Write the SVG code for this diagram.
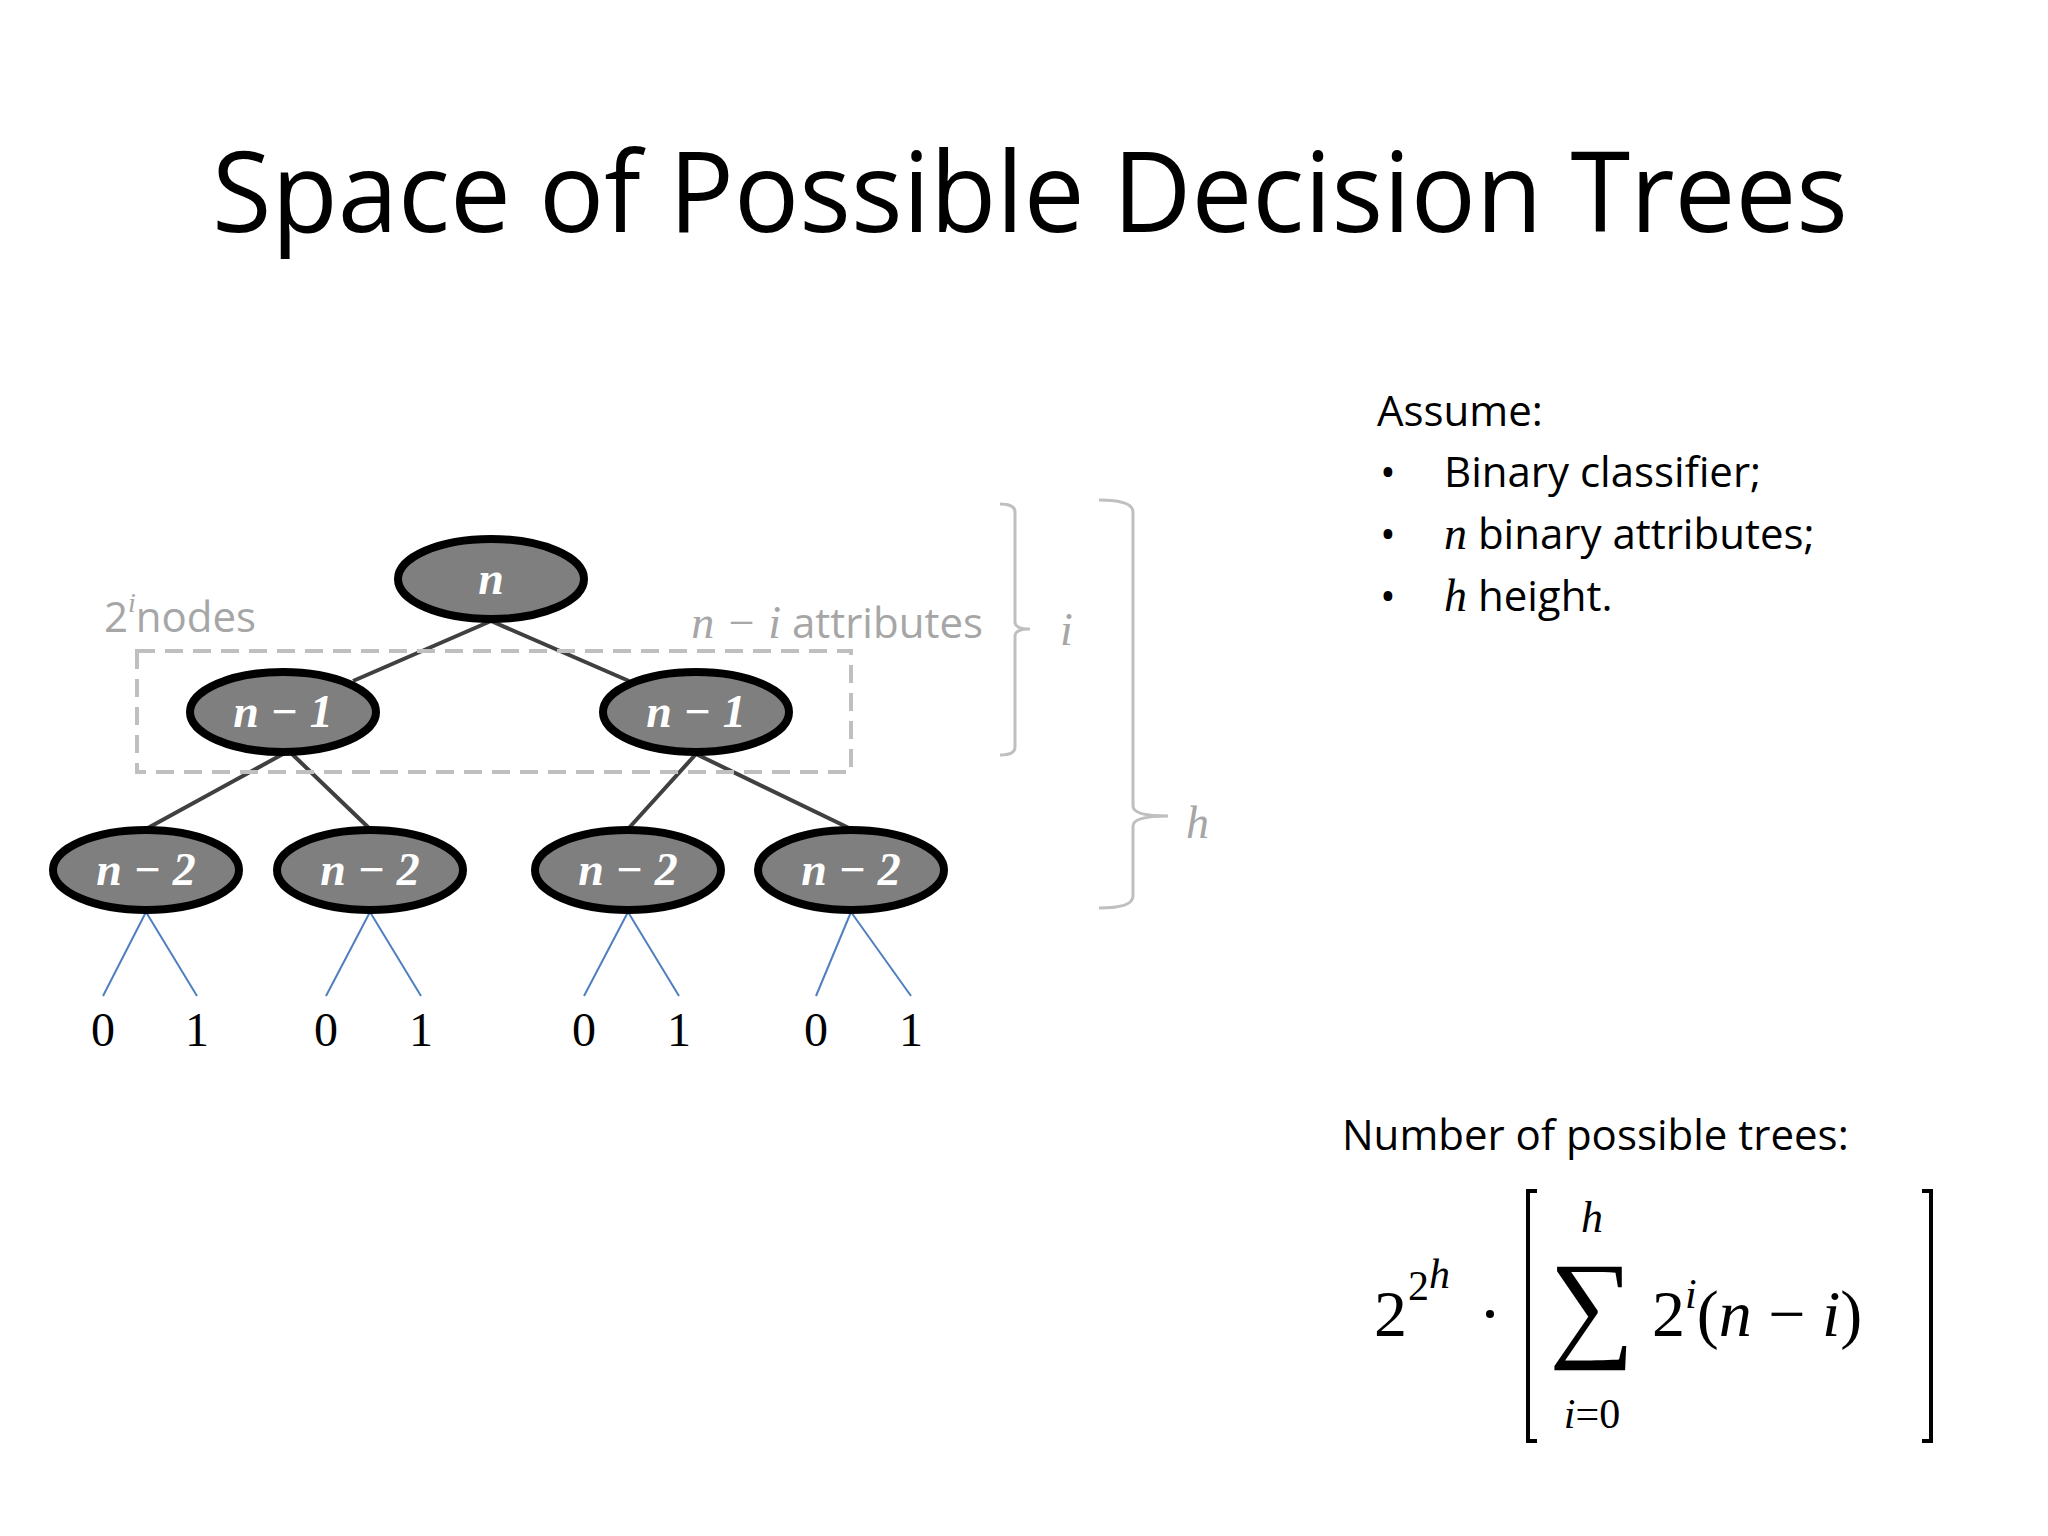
<svg xmlns="http://www.w3.org/2000/svg" width="2048" height="1536" viewBox="0 0 2048 1536">
<style>
.nd{fill:#7f7f7f;stroke:#000;stroke-width:8}
.nt{font-family:"Liberation Serif",serif;font-style:italic;font-weight:bold;fill:#fff;font-size:46px;text-anchor:middle}
.e{stroke:#404040;stroke-width:4;fill:none}
.b{stroke:#4f7fbf;stroke-width:2;fill:none}
.lf{font-family:"Liberation Serif",serif;font-size:48px;text-anchor:middle;fill:#000}
.g{font-family:"Open Sans",sans-serif;fill:#a6a6a6;font-size:42px}
.gi{font-family:"Liberation Serif",serif;font-style:italic;fill:#a6a6a6;font-size:46px}
.br{stroke:#bfbfbf;stroke-width:3;fill:none}
.t{font-family:"Open Sans",sans-serif;fill:#000;font-size:42px}
.m{font-family:"Liberation Serif",serif;fill:#000}
</style>
<rect width="2048" height="1536" fill="#fff"/>
<text x="1030" y="232" text-anchor="middle" font-family="Open Sans, sans-serif" font-size="112" textLength="1636" lengthAdjust="spacingAndGlyphs">Space of Possible Decision Trees</text>
<g id="connectors">
<path class="e" d="M491 621 L353 681 M491 621 L629 681 M283 754 L146 829 M292 754 L370 829 M696 754 L628 829 M696 754 L851 829"/>
<path class="b" d="M146 912 L103 996 M146 912 L197 996 M370 912 L326 996 M370 912 L421 996 M628 912 L584 996 M628 912 L679 996 M851 912 L816 996 M851 912 L911 996"/>
</g>
<rect x="137" y="651" width="714" height="121" fill="none" stroke="#bfbfbf" stroke-width="4" stroke-dasharray="18,10"/>
<g id="root"><ellipse class="nd" cx="491" cy="579" rx="93" ry="40"/><text class="nt" x="491" y="594">n</text></g>
<g id="n1a"><ellipse class="nd" cx="283" cy="712" rx="93" ry="40"/><text class="nt" x="283" y="727">n − 1</text></g>
<g id="n1b"><ellipse class="nd" cx="696" cy="712" rx="93" ry="40"/><text class="nt" x="696" y="727">n − 1</text></g>
<g id="n2a"><ellipse class="nd" cx="146" cy="870" rx="93" ry="40"/><text class="nt" x="146" y="885">n − 2</text></g>
<g id="n2b"><ellipse class="nd" cx="370" cy="870" rx="93" ry="40"/><text class="nt" x="370" y="885">n − 2</text></g>
<g id="n2c"><ellipse class="nd" cx="628" cy="870" rx="93" ry="40"/><text class="nt" x="628" y="885">n − 2</text></g>
<g id="n2d"><ellipse class="nd" cx="851" cy="870" rx="93" ry="40"/><text class="nt" x="851" y="885">n − 2</text></g>
<g id="leaves">
<text class="lf" x="103" y="1046">0</text><text class="lf" x="197" y="1046">1</text>
<text class="lf" x="326" y="1046">0</text><text class="lf" x="421" y="1046">1</text>
<text class="lf" x="584" y="1046">0</text><text class="lf" x="679" y="1046">1</text>
<text class="lf" x="816" y="1046">0</text><text class="lf" x="911" y="1046">1</text>
</g>
<text class="g" x="104" y="632">2<tspan dy="-20" font-size="28" font-family="Liberation Serif,serif" font-style="italic">i</tspan><tspan dy="20">nodes</tspan></text>
<text class="g" x="983" y="638" text-anchor="end"><tspan class="gi">n − i</tspan> attributes</text>
<path class="br" d="M1000 504 Q1015 504 1015 512 L1015 622 Q1015 629 1030 629 Q1015 629 1015 636 L1015 747 Q1015 755 1000 755"/>
<text class="gi" x="1060" y="645">i</text>
<path class="br" d="M1099 500 Q1133 500 1133 512 L1133 806 Q1133 816 1168 816 Q1133 816 1133 826 L1133 896 Q1133 908 1099 908"/>
<text class="gi" x="1186" y="838">h</text>
<g id="assume">
<text class="t" x="1377" y="426">Assume:</text>
<text class="t" x="1380" y="487">•</text><text class="t" x="1444" y="487">Binary classifier;</text>
<text class="t" x="1380" y="549">•</text><text class="t" x="1444" y="549"><tspan class="m" font-style="italic" font-size="46">n</tspan> binary attributes;</text>
<text class="t" x="1380" y="611">•</text><text class="t" x="1444" y="611"><tspan class="m" font-style="italic" font-size="46">h</tspan> height.</text>
</g>
<text class="t" x="1342" y="1150">Number of possible trees:</text>
<g id="formula">
<text class="m" x="1374" y="1336" font-size="66">2</text>
<text class="m" x="1408" y="1300" font-size="42">2<tspan dy="-12" font-style="italic">h</tspan></text>
<circle cx="1490" cy="1314" r="4" fill="#000"/>
<path d="M1537 1191 L1528 1191 L1528 1441 L1537 1441 M1922 1191 L1931 1191 L1931 1441 L1922 1441" stroke="#000" stroke-width="4" fill="none"/>
<text class="m" x="1592" y="1345" font-size="120" text-anchor="middle">∑</text>
<text class="m" x="1592" y="1232" font-size="44" font-style="italic" text-anchor="middle">h</text>
<text class="m" x="1592" y="1428" font-size="42" text-anchor="middle"><tspan font-style="italic">i</tspan>=0</text>
<text class="m" x="1652" y="1336" font-size="66">2<tspan dy="-28" font-size="42" font-style="italic">i</tspan><tspan dy="28">(</tspan><tspan font-style="italic">n</tspan> − <tspan font-style="italic">i</tspan>)</text>
</g>
</svg>
